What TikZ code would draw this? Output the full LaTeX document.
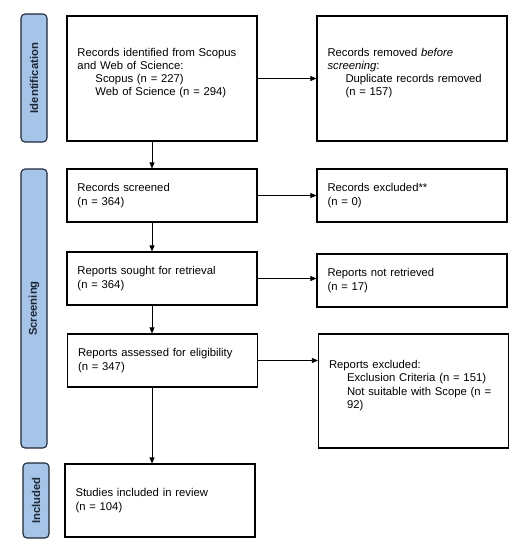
\documentclass[tikz,border=0pt]{standalone}
\usepackage{fontspec}
\setmainfont{Liberation Sans}
\usetikzlibrary{arrows.meta}
\definecolor{barfill}{RGB}{165,196,232}
\definecolor{barline}{RGB}{30,40,55}
\begin{document}
\begin{tikzpicture}[x=1pt,y=-1pt,
  font=\fontsize{11.3}{13.2}\selectfont,
  box/.style={draw=black, line width=1.1pt, rectangle, minimum width=190pt, inner xsep=10.5pt, inner ysep=0pt, text width=169pt, align=left},
  bar/.style={draw=barline, fill=barfill, line width=1.1pt, rounded corners=4pt, rectangle, rotate=90, minimum height=26pt, inner sep=0pt, font=\fontsize{11.3}{13.2}\selectfont\bfseries, text=barline},
  arr/.style={draw=black, line width=0.6pt, -{Triangle[length=6pt,width=5pt]}}
]
\useasboundingbox (0,0) rectangle (525,550);
% phase bars
\node[bar, minimum width=128pt] (pid) at (34,78) {Identification};
\node[bar, minimum width=279pt] (psc) at (34,308.5) {Screening};
\node[bar, minimum width=75pt] (pin) at (36,500.5) {Included};
% boxes
\node[box, minimum height=125pt] (b1) at (162,78.5) {Records identified from Scopus and Web of Science:\\ \hspace*{18pt}Scopus (n = 227)\\ \hspace*{18pt}Web of Science (n = 294)\\ \mbox{}};
\node[box, minimum height=125pt] (b2) at (412,78.5) {Records removed \textit{before}\\ \textit{screening}:\\ \hspace*{18pt}Duplicate records removed\\ \hspace*{18pt}(n = 157)\\ \mbox{}};
\node[box, minimum height=53pt] (b3) at (162,195.5) {Records screened\\ (n = 364)};
\node[box, minimum height=53pt] (b4) at (412,195.5) {Records excluded**\\ (n = 0)};
\node[box, minimum height=53pt] (b5) at (162,278.5) {Reports sought for retrieval\\ (n = 364)};
\node[box, minimum height=53pt] (b6) at (412,280.5) {Reports not retrieved\\ (n = 17)};
\node[box, minimum height=53pt] (b7) at (162.5,360.5) {Reports assessed for eligibility\\ (n = 347)};
\node[box, minimum height=114pt, minimum width=189pt] (b8) at (413.5,391) {Reports excluded:\\ \hspace*{18pt}Exclusion Criteria (n = 151)\\ \hspace*{18pt}Not suitable with Scope (n =\\ \hspace*{18pt}92)\\ \mbox{}};
\node[box, minimum height=73pt] (b9) at (160,500.5) {Studies included in review\\ (n = 104)};
% connectors
\coordinate (ax) at (152,0);
\draw[arr] (b1.south -| ax) -- (b3.north -| ax);
\draw[arr] (b3.south -| ax) -- (b5.north -| ax);
\draw[arr] (b5.south -| ax) -- (b7.north -| ax);
\draw[arr] (b7.south -| ax) -- (b9.north -| ax);
\draw[arr] (b1.east) -- (b2.west);
\draw[arr] (b3.east) -- (b4.west);
\draw[arr] (b5.east) -- (b5.east -| b6.west);
\draw[arr] (b7.east) -- (b7.east -| b8.west);
\end{tikzpicture}
\end{document}
